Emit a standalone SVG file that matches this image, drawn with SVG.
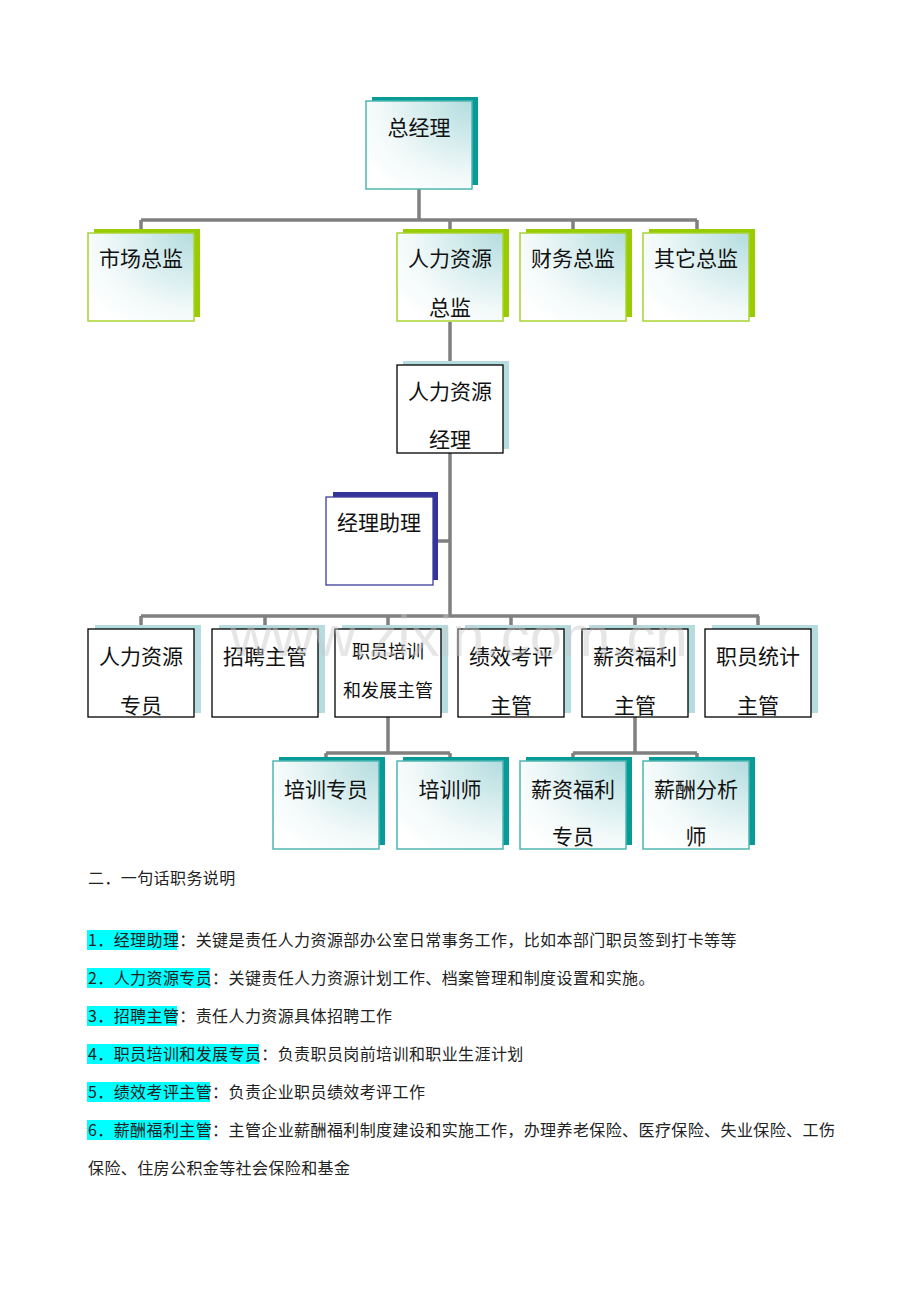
<svg xmlns="http://www.w3.org/2000/svg" width="920" height="1302" viewBox="0 0 920 1302">
<defs>
<radialGradient id="gfill" cx="1" cy="0" r="1.25">
<stop offset="0" stop-color="#b3dcdf"/>
<stop offset="0.35" stop-color="#d3ebec"/>
<stop offset="0.7" stop-color="#f2f9f9"/>
<stop offset="1" stop-color="#ffffff"/>
</radialGradient>
</defs>
<style>
.conn{stroke:#808080;stroke-width:3.5;fill:none}
.sh-teal{fill:#089a96}
.sh-green{fill:#99cc00}
.sh-navy{fill:#333399}
.sh-light{fill:#b5dde0}
.bx-teal{fill:url(#gfill);stroke:#4fb6b3;stroke-width:1.5}
.bx-green{fill:url(#gfill);stroke:#a8d430;stroke-width:1.5}
.bx-navy{fill:#ffffff;stroke:#3c3ca0;stroke-width:1.3}
.bx-plain{fill:#ffffff;stroke:#000000;stroke-width:1.3}
.t{font-family:"Noto Sans CJK SC","Noto Sans",sans-serif;font-size:21px;fill:#111;text-anchor:middle}
.ts{font-size:18px}
.p{font-family:"Noto Sans CJK SC","Noto Sans",sans-serif;font-size:16px;fill:#222;letter-spacing:0.4px}
.hl{fill:#00ffff}
.wm{font-family:"Liberation Sans",Arial,sans-serif;font-size:58px;fill:#c8c8c8;opacity:0.45}
</style>

<g id="connectors">
<path class="conn" d="M419 189V220M141 220H697M141 220V233M450 220V233M573 220V233M697 220V233"/>
<path class="conn" d="M450 322V365M450 453V616M433 541H450"/>
<path class="conn" d="M141 616H759M141 616V629M265 616V629M388 616V629M511 616V629M635 616V629M758 616V629"/>
<path class="conn" d="M388 717V753M326 753H450M326 753V762M450 753V762"/>
<path class="conn" d="M635 717V753M573 753H697M573 753V762M697 753V762"/>
</g>

<g id="n-zongjingli">
<rect class="sh-teal" x="372" y="97" width="106" height="88"/>
<rect class="bx-teal" x="366" y="101" width="106" height="88"/>
<text class="t" x="419" y="135">总经理</text>
</g>

<g id="n-shichang">
<rect class="sh-green" x="94" y="229" width="106" height="88"/>
<rect class="bx-green" x="88" y="233" width="106" height="88"/>
<text class="t" x="141" y="266">市场总监</text>
</g>
<g id="n-renli-zongjian">
<rect class="sh-green" x="403" y="229" width="106" height="88"/>
<rect class="bx-green" x="397" y="233" width="106" height="88"/>
<text class="t" x="450" y="266">人力资源</text>
<text class="t" x="450" y="315">总监</text>
</g>
<g id="n-caiwu">
<rect class="sh-green" x="526" y="229" width="106" height="88"/>
<rect class="bx-green" x="520" y="233" width="106" height="88"/>
<text class="t" x="573" y="266">财务总监</text>
</g>
<g id="n-qita">
<rect class="sh-green" x="649" y="229" width="106" height="88"/>
<rect class="bx-green" x="643" y="233" width="106" height="88"/>
<text class="t" x="696" y="266">其它总监</text>
</g>

<g id="n-renli-jingli">
<rect class="sh-light" x="403" y="361" width="106" height="88"/>
<rect class="bx-plain" x="397" y="365" width="106" height="88"/>
<text class="t" x="450" y="399">人力资源</text>
<text class="t" x="450" y="447">经理</text>
</g>

<g id="n-zhuli">
<rect class="sh-navy" x="333" y="492" width="105" height="88"/>
<rect class="bx-navy" x="326" y="497" width="107" height="88"/>
<text class="t" x="379" y="530">经理助理</text>
</g>

<g id="n-zhuanyuan">
<rect class="sh-light" x="95" y="625" width="106" height="88"/>
<rect class="bx-plain" x="88" y="629" width="106" height="88"/>
<text class="t" x="141" y="664">人力资源</text>
<text class="t" x="141" y="713">专员</text>
</g>
<g id="n-zhaopin">
<rect class="sh-light" x="219" y="625" width="106" height="88"/>
<rect class="bx-plain" x="212" y="629" width="106" height="88"/>
<text class="t" x="265" y="664">招聘主管</text>
</g>
<g id="n-peixun">
<rect class="sh-light" x="342" y="625" width="106" height="88"/>
<rect class="bx-plain" x="335" y="629" width="106" height="88"/>
<text class="t ts" x="388" y="658">职员培训</text>
<text class="t ts" x="388" y="697">和发展主管</text>
</g>
<g id="n-jixiao">
<rect class="sh-light" x="465" y="625" width="106" height="88"/>
<rect class="bx-plain" x="458" y="629" width="106" height="88"/>
<text class="t" x="511" y="664">绩效考评</text>
<text class="t" x="511" y="713">主管</text>
</g>
<g id="n-xinzi">
<rect class="sh-light" x="589" y="625" width="106" height="88"/>
<rect class="bx-plain" x="582" y="629" width="106" height="88"/>
<text class="t" x="635" y="664">薪资福利</text>
<text class="t" x="635" y="713">主管</text>
</g>
<g id="n-tongji">
<rect class="sh-light" x="712" y="625" width="106" height="88"/>
<rect class="bx-plain" x="705" y="629" width="106" height="88"/>
<text class="t" x="758" y="664">职员统计</text>
<text class="t" x="758" y="713">主管</text>
</g>

<g id="n-peixun-zhuanyuan">
<rect class="sh-teal" x="279" y="757" width="106" height="88"/>
<rect class="bx-teal" x="273" y="761" width="106" height="88"/>
<text class="t" x="326" y="797">培训专员</text>
</g>
<g id="n-peixunshi">
<rect class="sh-teal" x="403" y="757" width="106" height="88"/>
<rect class="bx-teal" x="397" y="761" width="106" height="88"/>
<text class="t" x="450" y="797">培训师</text>
</g>
<g id="n-xinzi-zhuanyuan">
<rect class="sh-teal" x="526" y="757" width="106" height="88"/>
<rect class="bx-teal" x="520" y="761" width="106" height="88"/>
<text class="t" x="573" y="797">薪资福利</text>
<text class="t" x="573" y="844">专员</text>
</g>
<g id="n-xinchou-fenxi">
<rect class="sh-teal" x="649" y="757" width="106" height="88"/>
<rect class="bx-teal" x="643" y="761" width="106" height="88"/>
<text class="t" x="696" y="797">薪酬分析</text>
<text class="t" x="696" y="844">师</text>
</g>

<text class="wm" x="230" y="656">www.zixin.com.cn</text>

<g id="description">
<text class="p" x="88" y="884">二．一句话职务说明</text>
<rect class="hl" x="87" y="930" width="90" height="20"/>
<text class="p" x="88" y="946">1．经理助理：关键是责任人力资源部办公室日常事务工作，比如本部门职员签到打卡等等</text>
<rect class="hl" x="87" y="968" width="123" height="20"/>
<text class="p" x="88" y="984">2．人力资源专员：关键责任人力资源计划工作、档案管理和制度设置和实施。</text>
<rect class="hl" x="87" y="1006" width="90" height="20"/>
<text class="p" x="88" y="1022">3．招聘主管：责任人力资源具体招聘工作</text>
<rect class="hl" x="87" y="1044" width="172" height="20"/>
<text class="p" x="88" y="1060">4．职员培训和发展专员：负责职员岗前培训和职业生涯计划</text>
<rect class="hl" x="87" y="1082" width="123" height="20"/>
<text class="p" x="88" y="1098">5．绩效考评主管：负责企业职员绩效考评工作</text>
<rect class="hl" x="87" y="1120" width="123" height="20"/>
<text class="p" x="88" y="1136">6．薪酬福利主管：主管企业薪酬福利制度建设和实施工作，办理养老保险、医疗保险、失业保险、工伤</text>
<text class="p" x="88" y="1174">保险、住房公积金等社会保险和基金</text>
</g>
</svg>
